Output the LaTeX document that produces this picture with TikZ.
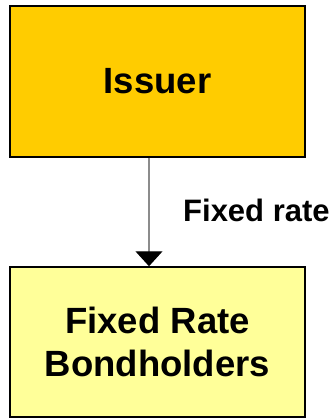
\documentclass[tikz,border=0pt]{standalone}
\usepackage{fontspec}
\setmainfont{Liberation Sans}
\usetikzlibrary{arrows.meta}
\definecolor{issuerfill}{HTML}{FFCC00}
\definecolor{holderfill}{HTML}{FFFF99}
\definecolor{linegray}{HTML}{8C8C8C}
\begin{document}
\begin{tikzpicture}[x=1pt,y=-1pt,
  box/.style={draw=black,line width=1.5pt,minimum width=295pt,inner sep=0pt,align=center,
    font=\fontsize{36.5}{43}\selectfont\bfseries},
  conn/.style={draw=linegray,line width=1.2pt,-{Triangle[width=27pt,length=15pt,fill=black,color=black]}},
  lbl/.style={font=\fontsize{31}{36}\selectfont\bfseries,inner sep=0pt,anchor=base west}]
\useasboundingbox (0,0) rectangle (333,419);
\node[box,fill=issuerfill,minimum height=151pt] (issuer) at (157.5,81.5) {Issuer};
\node[box,fill=holderfill,minimum height=150pt] (holders) at (157.5,342) {Fixed Rate\\Bondholders};
\draw[conn] (issuer.south -| 149,0) -- (holders.north -| 149,0);
\node[lbl] (rate) at (183,221) {Fixed rate};
\end{tikzpicture}
\end{document}
